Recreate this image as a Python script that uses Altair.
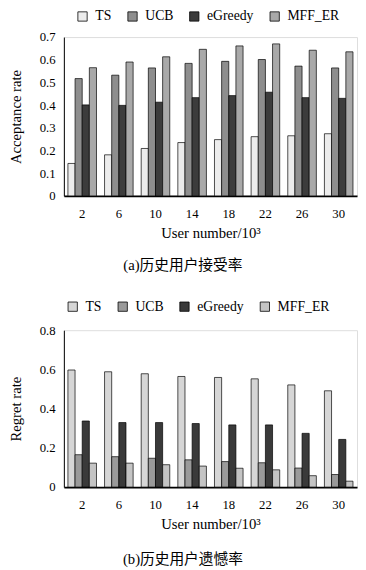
import altair as alt
import pandas as pd

users = ["2", "6", "10", "14", "18", "22", "26", "30"]
algos = ["TS", "UCB", "eGreedy", "MFF_ER"]

acc_ts = [0.143, 0.181, 0.209, 0.235, 0.248, 0.261, 0.265, 0.274]
acc_ucb = [0.517, 0.532, 0.564, 0.584, 0.593, 0.601, 0.572, 0.564]
acc_eg = [0.401, 0.399, 0.413, 0.433, 0.442, 0.457, 0.433, 0.430]
acc_mff = [0.565, 0.590, 0.613, 0.646, 0.661, 0.670, 0.642, 0.635]

reg_ts = [0.597, 0.588, 0.578, 0.564, 0.559, 0.552, 0.521, 0.491]
reg_ucb = [0.165, 0.155, 0.147, 0.139, 0.130, 0.124, 0.097, 0.064]
reg_eg = [0.337, 0.329, 0.329, 0.324, 0.317, 0.317, 0.274, 0.243]
reg_mff = [0.122, 0.122, 0.114, 0.107, 0.096, 0.088, 0.058, 0.030]

acc_ticks = [0, 0.1, 0.2, 0.3, 0.4, 0.5, 0.6, 0.7]
reg_ticks = [0, 0.2, 0.4, 0.6, 0.8]

fills_a = ["#ececec", "#8e8e8e", "#3c3c3c", "#a9a9a9"]
fills_b = ["#d6d6d6", "#9a9a9a", "#3a3a3a", "#c4c4c4"]


def long_df(series):
    rows = []
    for algo, vals in zip(algos, series):
        for u, v in zip(users, vals):
            rows.append({"user": u, "algo": algo, "value": v})
    return pd.DataFrame(rows)


SERIF = "Liberation Serif"
CAPTION_FONT = "Liberation Serif, Noto Sans CJK SC"


def panel(df, ytitle, ymax, ticks, caption, fills, width, height, legend_x, legend_y,
          cap_offset):
    return alt.Chart(df).mark_bar(stroke="black", strokeWidth=0.7).encode(
        x=alt.X(
            "user:N", sort=users,
            scale=alt.Scale(paddingInner=0.22, paddingOuter=0.11),
            axis=alt.Axis(title="User number/10³", labelAngle=0, ticks=False,
                          domainWidth=1.8, domainColor="black", labelPadding=12,
                          titlePadding=5),
        ),
        xOffset=alt.XOffset("algo:N", sort=algos,
                            scale=alt.Scale(paddingInner=0, paddingOuter=0)),
        y=alt.Y(
            "value:Q",
            scale=alt.Scale(domain=[0, ymax], nice=False),
            axis=alt.Axis(title=ytitle, values=ticks, grid=False,
                          labelExpr="datum.value == 0 ? '0' : format(datum.value, '.1f')",
                          ticks=False, domainColor="black",
                          labelPadding=9, titlePadding=16),
        ),
        fill=alt.Fill(
            "algo:N", sort=algos,
            scale=alt.Scale(domain=algos, range=fills),
            legend=alt.Legend(orient="none", direction="horizontal", title=None,
                              legendX=legend_x, legendY=legend_y, padding=0,
                              symbolType="square", symbolSize=90,
                              symbolStrokeColor="black", symbolStrokeWidth=0.8,
                              labelFont=SERIF, labelFontSize=14, labelColor="black",
                              columnPadding=14, labelOffset=6),
        ),
    ).properties(
        width=width, height=height,
        title=alt.TitleParams(caption, orient="bottom", font=CAPTION_FONT, fontSize=15,
                              fontWeight="normal", color="black", offset=cap_offset,
                              anchor="middle", frame="bounds"),
    )


top = panel(long_df([acc_ts, acc_ucb, acc_eg, acc_mff]), "Acceptance rate", 0.7,
            acc_ticks, "(a)历史用户接受率", fills_a, 299, 162, 12, -28, 19)
bottom = panel(long_df([reg_ts, reg_ucb, reg_eg, reg_mff]), "Regret rate", 0.8,
               reg_ticks, "(b)历史用户遗憾率", fills_b, 299, 160, 2, -31, 21)

chart = alt.vconcat(top, bottom, spacing=25).resolve_scale(fill="independent").resolve_legend(
    fill="independent"
).properties(
    padding={"left": 0, "top": -5, "right": 0, "bottom": 0}
).configure_view(strokeWidth=0).configure(background="white").configure_axis(
    labelFont=SERIF, titleFont=SERIF, labelFontSize=13, titleFontSize=15,
    titleFontWeight="normal", labelColor="black", titleColor="black"
)

chart.save("out.html", embed_options={"renderer": "svg", "actions": False})
